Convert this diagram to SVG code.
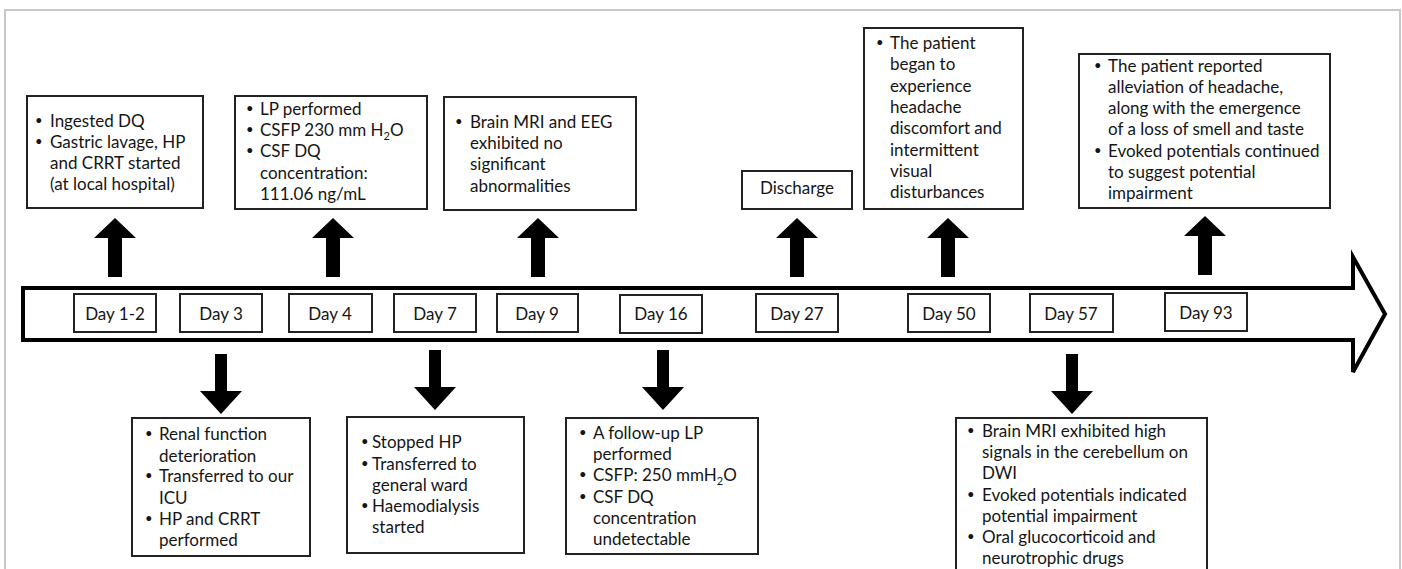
<svg xmlns="http://www.w3.org/2000/svg" width="1402" height="569" viewBox="0 0 1402 569">
<defs>
<style>
text{font-family:Lato,"Open Sans","Liberation Sans",sans-serif;font-size:17px;fill:#151515}
.bu{font-size:13px}
.box{fill:#fff;stroke:#222;stroke-width:2}
.day{fill:#fff;stroke:#222;stroke-width:2}
.dl{text-anchor:middle}
.blk{fill:#000;stroke:none}
.sub{font-size:11px}
</style>
<path id="up" d="M0,0 L21,20 L7,20 L7,59 L-7,59 L-7,20 L-21,20 Z"/>
<path id="down" d="M0,0 L21,-23 L6,-23 L6,-60 L-6,-60 L-6,-23 L-21,-23 Z"/>
</defs>
<rect x="0" y="0" width="1402" height="569" fill="#fff"/>
<rect x="5" y="10" width="1395" height="580" fill="none" stroke="#c8c8c8" stroke-width="2"/>

<g id="connectors">
<path id="timeline" d="M23,288 L1353,288 L1353,257 L1385,314 L1353,372 L1353,340 L23,340 Z" fill="#fff" stroke="#000" stroke-width="4" stroke-linejoin="miter"/>
<use href="#up" x="115" y="218" class="blk"/>
<use href="#up" x="333" y="218" class="blk"/>
<use href="#up" x="538" y="218" class="blk"/>
<use href="#up" x="797" y="218" class="blk"/>
<use href="#up" x="948" y="218" class="blk"/>
<use href="#up" x="1205" y="216" class="blk"/>
<use href="#down" x="221" y="414" class="blk"/>
<use href="#down" x="435" y="410" class="blk"/>
<use href="#down" x="663" y="410" class="blk"/>
<use href="#down" x="1072" y="414" class="blk"/>
</g>

<g id="days">
<g id="day1-2"><rect class="day" x="74" y="294" width="82" height="38"/><text class="dl" x="115" y="320">Day 1-2</text></g>
<g id="day3"><rect class="day" x="180" y="294" width="82" height="38"/><text class="dl" x="221" y="320">Day 3</text></g>
<g id="day4"><rect class="day" x="289" y="294" width="83" height="38"/><text class="dl" x="330" y="320">Day 4</text></g>
<g id="day7"><rect class="day" x="394" y="294" width="82" height="38"/><text class="dl" x="435" y="320">Day 7</text></g>
<g id="day9"><rect class="day" x="497" y="294" width="81" height="38"/><text class="dl" x="537" y="320">Day 9</text></g>
<g id="day16"><rect class="day" x="620" y="295" width="82" height="38"/><text class="dl" x="661" y="320">Day 16</text></g>
<g id="day27"><rect class="day" x="756" y="294" width="82" height="38"/><text class="dl" x="797" y="320">Day 27</text></g>
<g id="day50"><rect class="day" x="908" y="294" width="82" height="38"/><text class="dl" x="949" y="320">Day 50</text></g>
<g id="day57"><rect class="day" x="1030" y="294" width="83" height="38"/><text class="dl" x="1071" y="320">Day 57</text></g>
<g id="day93"><rect class="day" x="1165" y="293" width="82" height="38"/><text class="dl" x="1206" y="319">Day 93</text></g>
</g>

<g id="ev-day1-2">
<rect class="box" x="27" y="96" width="176" height="112"/>
<text class="bu" x="35" y="125">•</text><text x="50" y="127">Ingested DQ</text>
<text class="bu" x="35" y="146">•</text><text x="50" y="148">Gastric lavage, HP</text>
<text x="50" y="169">and CRRT started</text>
<text x="50" y="190">(at local hospital)</text>
</g>

<g id="ev-day4">
<rect class="box" x="235" y="96" width="192" height="113"/>
<text class="bu" x="246" y="113">•</text><text x="260" y="115">LP performed</text>
<text class="bu" x="246" y="134">•</text><text x="260" y="136">CSFP 230 mm H<tspan class="sub" dy="4">2</tspan><tspan dy="-4">O</tspan></text>
<text class="bu" x="246" y="155">•</text><text x="260" y="157">CSF DQ</text>
<text x="260" y="179">concentration:</text>
<text x="260" y="200">111.06 ng/mL</text>
</g>

<g id="ev-day9">
<rect class="box" x="444" y="97" width="192" height="113"/>
<text class="bu" x="455" y="126">•</text><text x="470" y="128">Brain MRI and EEG</text>
<text x="470" y="149">exhibited no</text>
<text x="470" y="170">significant</text>
<text x="470" y="192">abnormalities</text>
</g>

<g id="ev-day27">
<rect class="box" x="742" y="171" width="110" height="38"/>
<text class="dl" x="797" y="194">Discharge</text>
</g>

<g id="ev-day50">
<rect class="box" x="864" y="28" width="159" height="181"/>
<text class="bu" x="876" y="47">•</text><text x="890" y="49">The patient</text>
<text x="890" y="70">began to</text>
<text x="890" y="92">experience</text>
<text x="890" y="113">headache</text>
<text x="890" y="134">discomfort and</text>
<text x="890" y="156">intermittent</text>
<text x="890" y="177">visual</text>
<text x="890" y="198">disturbances</text>
</g>

<g id="ev-day93">
<rect class="box" x="1079" y="54" width="251" height="154"/>
<text class="bu" x="1094" y="70">•</text><text x="1108" y="72">The patient reported</text>
<text x="1108" y="93">alleviation of headache,</text>
<text x="1108" y="114">along with the emergence</text>
<text x="1108" y="135">of a loss of smell and taste</text>
<text class="bu" x="1094" y="155">•</text><text x="1108" y="157">Evoked potentials continued</text>
<text x="1108" y="178">to suggest potential</text>
<text x="1108" y="199">impairment</text>
</g>

<g id="ev-day3">
<rect class="box" x="132" y="418" width="178" height="138"/>
<text class="bu" x="145" y="438">•</text><text x="159" y="440">Renal function</text>
<text x="159" y="462">deterioration</text>
<text class="bu" x="145" y="480">•</text><text x="159" y="482">Transferred to our</text>
<text x="159" y="504">ICU</text>
<text class="bu" x="145" y="523">•</text><text x="159" y="525">HP and CRRT</text>
<text x="159" y="546">performed</text>
</g>

<g id="ev-day7">
<rect class="box" x="347" y="417" width="177" height="136"/>
<text class="bu" x="361" y="446">•</text><text x="372" y="448">Stopped HP</text>
<text class="bu" x="361" y="468">•</text><text x="372" y="470">Transferred to</text>
<text x="372" y="491">general ward</text>
<text class="bu" x="361" y="510">•</text><text x="372" y="512">Haemodialysis</text>
<text x="372" y="533">started</text>
</g>

<g id="ev-day16">
<rect class="box" x="566" y="418" width="192" height="136"/>
<text class="bu" x="579" y="437">•</text><text x="593" y="439">A follow-up LP</text>
<text x="593" y="460">performed</text>
<text class="bu" x="579" y="479">•</text><text x="593" y="481">CSFP: 250 mmH<tspan class="sub" dy="4">2</tspan><tspan dy="-4">O</tspan></text>
<text class="bu" x="579" y="501">•</text><text x="593" y="503">CSF DQ</text>
<text x="593" y="524">concentration</text>
<text x="593" y="545">undetectable</text>
</g>

<g id="ev-day57">
<rect class="box" x="956" y="418" width="251" height="170"/>
<text class="bu" x="967" y="435">•</text><text x="982" y="437">Brain MRI exhibited high</text>
<text x="982" y="458">signals in the cerebellum on</text>
<text x="982" y="479">DWI</text>
<text class="bu" x="967" y="499">•</text><text x="982" y="501">Evoked potentials indicated</text>
<text x="982" y="522">potential impairment</text>
<text class="bu" x="967" y="541">•</text><text x="982" y="543">Oral glucocorticoid and</text>
<text x="982" y="564">neurotrophic drugs</text>
</g>
</svg>
